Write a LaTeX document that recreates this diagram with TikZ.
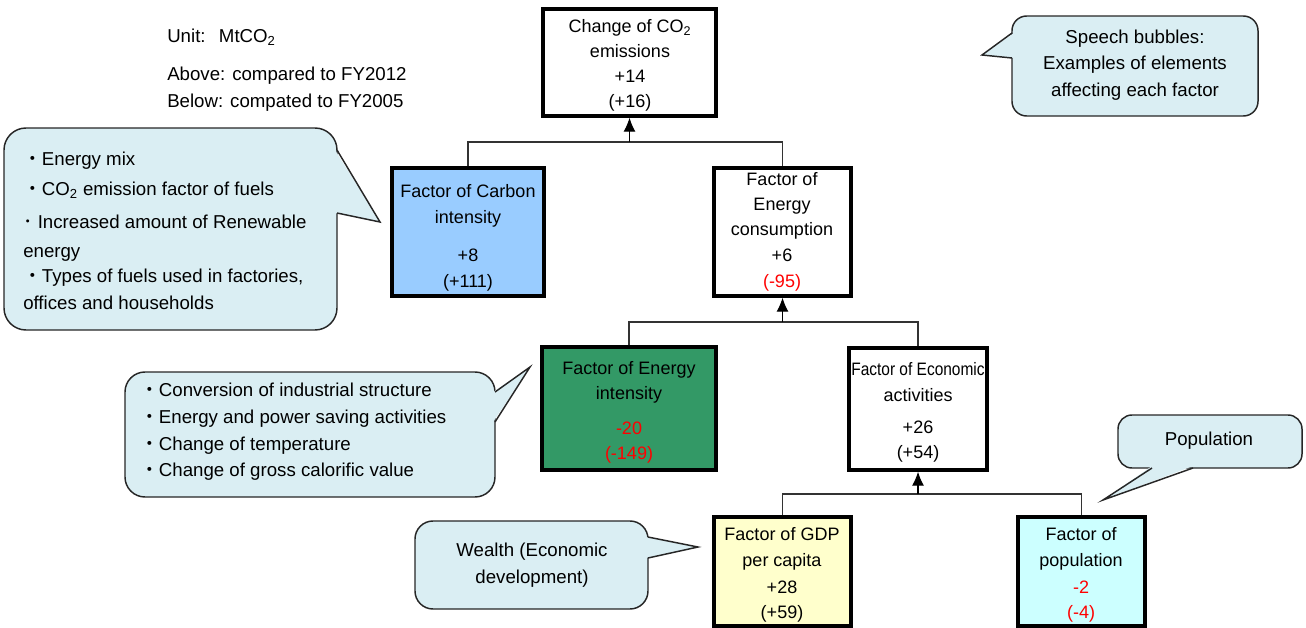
\documentclass[tikz,border=0pt]{standalone}
\usepackage{fontspec}
\usepackage{graphicx}
\setmainfont{Liberation Sans}
\newfontfamily\cjkfont{Noto Sans CJK JP}
\usetikzlibrary{arrows.meta}
\definecolor{bubblefill}{HTML}{DAEEF3}
\definecolor{carbonfill}{HTML}{99CCFF}
\definecolor{greenfill}{HTML}{339966}
\definecolor{gdpfill}{HTML}{FFFFCC}
\definecolor{popfill}{HTML}{CCFFFF}
\definecolor{linegray}{HTML}{333333}
\definecolor{negred}{HTML}{FF0000}
\newcommand{\jdot}{{\cjkfont ・}}
\newcommand{\hdot}{{\cjkfont ･}}
\begin{document}
\begin{tikzpicture}[x=0.75pt,y=-0.75pt,
  factor/.style={draw=black, line width=2.6pt, inner sep=0pt},
  ftext/.style={align=center, font=\fontsize{13.5}{19}\selectfont, inner sep=0pt},
  btext/.style={font=\fontsize{14}{20}\selectfont, inner sep=0pt},
  bubble/.style={draw=black!85, line width=1.1pt, fill=bubblefill},
  tailfill/.style={fill=bubblefill},
  tailline/.style={draw=black!85, line width=1.1pt, line join=miter},
  link/.style={draw=linegray, line width=0.8pt},
  arr/.style={draw=black, line width=0.8pt, -{Latex[length=10.5pt,width=9pt]}},
]
\useasboundingbox (0,0) rectangle (1306,628);

% ---------- top-left notes ----------
\node[btext, anchor=west] (unit) at (167,37) {Unit:\hspace{10pt}MtCO\textsubscript{2}};
\node[btext, anchor=west] (above) at (167,76) {Above: compared to FY2012};
\node[btext, anchor=west] (below) at (167,103) {Below: compated to FY2005};

% ---------- factor boxes ----------
\node[factor, fill=white, minimum width=129.75pt, minimum height=80.25pt] (total) at (629.5,62.5) {};
\node[factor, fill=carbonfill, minimum width=114pt, minimum height=96pt] (carbon) at (468,232) {};
\node[factor, fill=white, minimum width=102.75pt, minimum height=96pt] (econs) at (782.5,232) {};
\node[factor, fill=greenfill, minimum width=130.5pt, minimum height=92.25pt] (green) at (629,408.5) {};
\node[factor, fill=white, minimum width=103.5pt, minimum height=91.5pt] (econ) at (918,409) {};
\node[factor, fill=gdpfill, minimum width=102.75pt, minimum height=81.75pt] (gdp) at (782.5,571.5) {};
\node[factor, fill=popfill, minimum width=95.25pt, minimum height=81.75pt] (pop) at (1081.5,571.5) {};

% ---------- connectors ----------
\coordinate (j1) at (629.5,142);
\draw[link] (carbon.north) |- (j1) -| (econs.north);
\draw[arr] (j1) -- (total.south);
\coordinate (j2) at (782.5,322);
\draw[link] (green.north) |- (j2) -| (econ.north);
\draw[arr] (j2) -- (econs.south);
\coordinate (j3) at (918,494);
\draw[link] (gdp.north) |- (j3) -| (pop.north);
\draw[arr] (j3) -- (econ.south);

% ---------- box texts ----------
\node[ftext] (totalT) at (630,38.5) {Change of CO\textsubscript{2}\\emissions};
\node[ftext] (totalN) at (630,90.5) {+14\\(+16)};
\node[ftext] (carbonT) at (468,206) {Factor of Carbon\\intensity};
\node[ftext] (carbonN) at (468,270) {+8\\(+111)};
\node[ftext] (econsT) at (782,206) {Factor of\\Energy\\consumption};
\node[ftext] (econsN) at (782,270) {+6\\\textcolor{negred}{(-95)}};
\node[ftext] (greenT) at (629,382.5) {Factor of Energy\\intensity};
\node[ftext, text=negred] (greenN) at (629,442.5) {-20\\(-149)};
\node[ftext] (econT) at (918,382) {\scalebox{0.86}[1]{Factor of Economic}\\activities};
\node[ftext] (econN) at (918,441.5) {+26\\(+54)};
\node[ftext] (gdpT) at (782,549) {Factor of GDP\\per capita};
\node[ftext] (gdpN) at (782,601.5) {+28\\(+59)};
\node[ftext] (popT) at (1081,549) {Factor of\\population};
\node[ftext, text=negred] (popN) at (1081,601.5) {-2\\(-4)};

% ---------- speech bubbles ----------
% legend bubble (top right)
\draw[bubble, rounded corners=11pt] (1012,16) rectangle (1258,116);
\fill[tailfill] (1014,33) -- (982,55) -- (1014,58) -- cycle;
\draw[tailline] (1012,33) -- (982,55) -- (1012,58);
\node[btext, align=center] (legend) at (1135,65) {Speech bubbles:\\Examples of elements\\affecting each factor};

% carbon intensity bubble
\draw[bubble, rounded corners=16.5pt] (4,128) rectangle (337,330);
\fill[tailfill] (335,150) -- (380,222) -- (335,213) -- cycle;
\draw[tailline] (337,150) -- (380,222) -- (337,213);
\node[btext, align=left, anchor=west] (b1) at (23,230.5) {\jdot Energy mix\\[3pt]\jdot CO\textsubscript{2} emission factor of fuels\\[4.7pt]\hdot\ Increased amount of Renewable\\[1.7pt]energy\\[-1.3pt]\jdot Types of fuels used in factories,\\offices and households};

% energy intensity bubble
\draw[bubble, rounded corners=15pt] (125,372) rectangle (495,497);
\fill[tailfill] (493,392) -- (530,367) -- (493,422) -- cycle;
\draw[tailline] (495,392) -- (530,367) -- (495,422);
\node[btext, align=left, anchor=west] (b2) at (140,432) {\jdot Conversion of industrial structure\\\jdot Energy and power saving activities\\\jdot Change of temperature\\\jdot Change of gross calorific value};

% wealth bubble
\draw[bubble, rounded corners=13.5pt] (415,521) rectangle (648,609);
\fill[tailfill] (646,537) -- (698,547) -- (646,558) -- cycle;
\draw[tailline] (648,537) -- (698,547) -- (648,558);
\node[btext, align=center] (b3) at (532,565) {Wealth (Economic\\development)};

% population bubble
\draw[bubble, rounded corners=10.5pt] (1118,415) rectangle (1302,468);
\fill[tailfill] (1193,466) -- (1103,500) -- (1152,466) -- cycle;
\draw[tailline] (1193,468) -- (1103,500) -- (1152,468);
\node[btext, align=center] (b4) at (1209,441) {Population};
\end{tikzpicture}
\end{document}
